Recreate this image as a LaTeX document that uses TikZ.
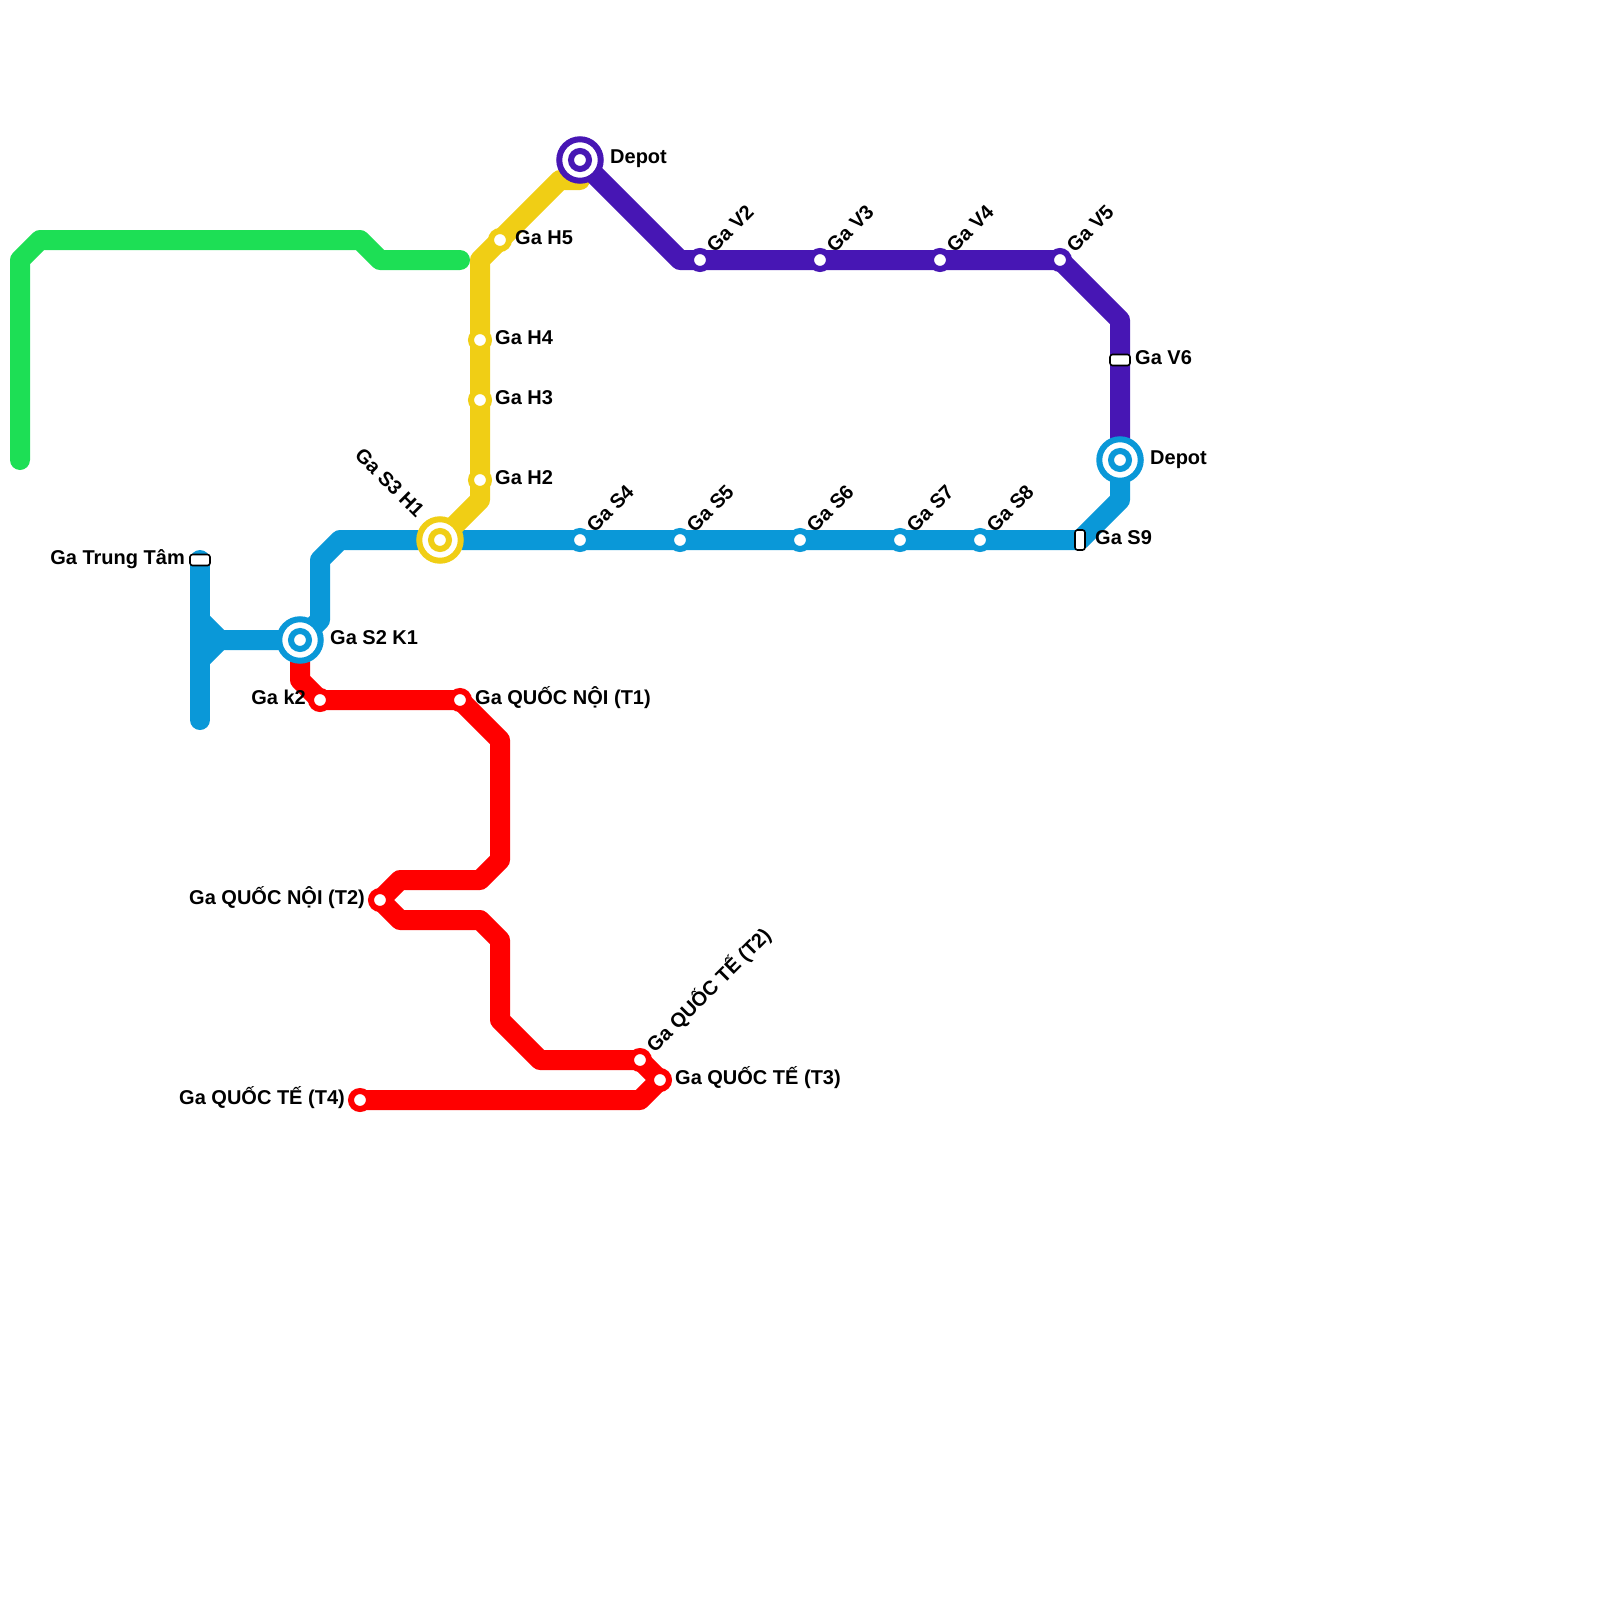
\documentclass[tikz,border=0pt]{standalone}
\usepackage{fontspec}
\setmainfont{Liberation Sans}
\usepackage{tikz}
\definecolor{linegreen}{HTML}{1DDF55}
\definecolor{lineyellow}{HTML}{F0CE15}
\definecolor{lineblue}{HTML}{0A98D8}
\definecolor{linepurple}{HTML}{4716B4}
\definecolor{linered}{HTML}{FF0000}
\pgfdeclarelayer{lines}
\pgfsetlayers{lines,main}
\tikzset{
  metro/.style={line width=20pt, line cap=round, line join=round},
  halt/.style={circle, fill=white, draw=#1, line width=6pt, minimum size=18pt, inner sep=0pt},
  hubout/.style={circle, fill=white, draw=#1, line width=6pt, minimum size=41.5pt, inner sep=0pt},
  hubin/.style={circle, fill=white, draw=#1, line width=6pt, minimum size=18pt, inner sep=0pt},
  platform/.style={rectangle, rounded corners=2.5pt, fill=white, draw=black, line width=1.6pt, inner sep=0pt},
  tag/.style={font=\fontsize{20}{22}\selectfont\bfseries, inner sep=0pt, text height=13pt, text depth=5pt},
}

\begin{document}
\begin{tikzpicture}[x=1pt,y=-1pt]
  \useasboundingbox (0,0) rectangle (1600,1600);

  % bends of the lines
  \foreach \n/\x/\y in {g1/20/460, g2/20/260, g3/40/240, g4/360/240, g5/380/260, g6/460/260,
                        y1/480/500, y2/480/260, y3/580/180, y4/560/180,
                        b1/200/720, b2/200/620, b3/220/640, b4/200/660, b5/320/620, b6/320/560,
                        b7/340/540, b8/1120/500,
                        p1/680/260, p2/1120/320,
                        r1/300/680, r2/500/740, r3/500/860, r4/480/880, r5/400/880, r6/400/920,
                        r7/480/920, r8/500/940, r9/500/1020, r10/540/1060, r11/640/1100}
    \coordinate (\n) at (\x,\y);

  % ordinary stations
  \foreach \n/\x/\y/\c in {h2/480/480/lineyellow, h3/480/400/lineyellow, h4/480/340/lineyellow, h5/500/240/lineyellow,
                           s4/580/540/lineblue, s5/680/540/lineblue, s6/800/540/lineblue,
                           s7/900/540/lineblue, s8/980/540/lineblue,
                           v2/700/260/linepurple, v3/820/260/linepurple, v4/940/260/linepurple, v5/1060/260/linepurple,
                           k2/320/700/linered, t1/460/700/linered, t2/380/900/linered,
                           qt2/640/1060/linered, t3/660/1080/linered, t4/360/1100/linered}
    \node[halt=\c] (\n) at (\x,\y) {};

  % interchanges
  \foreach \n/\x/\y/\c in {s2k1/300/640/lineblue, s3h1/440/540/lineyellow,
                           depotv/580/160/linepurple, depots/1120/460/lineblue}
    { \node[hubout=\c] (\n) at (\x,\y) {};
      \node[hubin=\c] (\n-in) at (\x,\y) {}; }

  % end platforms
  \node[platform, minimum width=20pt, minimum height=11pt] (trungtam) at (200,560) {};
  \node[platform, minimum width=20pt, minimum height=11pt] (v6) at (1120,360) {};
  \node[platform, minimum width=10pt, minimum height=20pt] (s9) at (1080,540) {};

  \begin{pgfonlayer}{lines}
    \draw[metro, linegreen] (g1) -- (g2) -- (g3) -- (g4) -- (g5) -- (g6);
    \draw[metro, linered] (s2k1.center) -- (r1) -- (k2.center) -- (t1.center) -- (r2) -- (r3) -- (r4) -- (r5)
      -- (t2.center) -- (r6) -- (r7) -- (r8) -- (r9) -- (r10) -- (qt2.center) -- (t3.center) -- (r11) -- (t4.center);
    \draw[metro, lineblue] (trungtam.center) -- (b1);
    \draw[metro, lineblue] (b2) -- (b3) -- (s2k1.center) -- (b5) -- (b6) -- (b7) -- (s3h1.center) -- (s4.center)
      -- (s5.center) -- (s6.center) -- (s7.center) -- (s8.center) -- (s9.center) -- (b8) -- (depots.center);
    \draw[metro, lineblue] (b4) -- (b3);
    \draw[metro, lineyellow] (s3h1.center) -- (y1) -- (h2.center) -- (h3.center) -- (h4.center) -- (y2)
      -- (h5.center) -- (y4) -- (y3);
    \draw[metro, linepurple] (depotv.center) -- (p1) -- (v2.center) -- (v3.center) -- (v4.center) -- (v5.center)
      -- (p2) -- (v6.center) -- (depots.center);
  \end{pgfonlayer}

  % labels to the side
  \foreach \n/\x/\y/\a/\s in {trungtam/185/560/east/{Ga Trung Tâm}, s2k1/330/640/west/{Ga S2 K1}, k2/306/700/east/{Ga k2},
                              t1/475/700/west/{Ga QUỐC NỘI (T1)}, t2/365/900/east/{Ga QUỐC NỘI (T2)},
                              t3/675/1080/west/{Ga QUỐC TẾ (T3)}, t4/345/1100/east/{Ga QUỐC TẾ (T4)},
                              h2/495/480/west/{Ga H2}, h3/495/400/west/{Ga H3}, h4/495/340/west/{Ga H4},
                              h5/515/240/west/{Ga H5}, depotv/610/160/west/{Depot}, depots/1150/460/west/{Depot},
                              v6/1135/360/west/{Ga V6}, s9/1095/540/west/{Ga S9}}
    \node[tag, anchor=\a] (\n-tag) at (\x,\y) {\s};

  % labels on a slant
  \foreach \n/\x/\y/\s in {s4/592/531/{Ga S4}, s5/692/531/{Ga S5}, s6/812/531/{Ga S6}, s7/912/531/{Ga S7}, s8/992/531/{Ga S8},
                           v2/712/251/{Ga V2}, v3/832/251/{Ga V3}, v4/952/251/{Ga V4}, v5/1072/251/{Ga V5},
                           qt2/652/1051/{Ga QUỐC TẾ (T2)}}
    \node[tag, anchor=west, rotate=45] (\n-tag) at (\x,\y) {\s};
  \node[tag, anchor=east, rotate=-45] (s3h1-tag) at (419,516) {Ga S3 H1};
\end{tikzpicture}
\end{document}
